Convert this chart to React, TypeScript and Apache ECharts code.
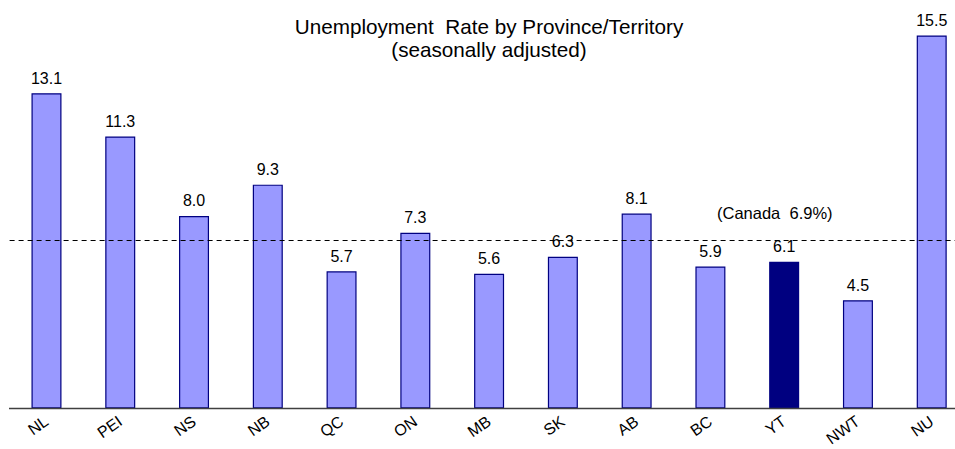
import React, { useEffect, useRef } from "react";
import * as echarts from "echarts";

const categories = ["NL", "PEI", "NS", "NB", "QC", "ON", "MB", "SK", "AB", "BC", "YT", "NWT", "NU"];
const rates = [13.1, 11.3, 8.0, 9.3, 5.7, 7.3, 5.6, 6.3, 8.1, 5.9, 6.1, 4.5, 15.5];
const highlighted = "YT";
const canadaRate = 6.9;
const canadaLineLevel = 7.0;

export default function App() {
  const ref = useRef<HTMLDivElement>(null);
  useEffect(() => {
    if (!ref.current) return;
    const chart = echarts.init(ref.current, undefined, { renderer: "svg" });
    chart.setOption({
      animation: false,
      backgroundColor: "#ffffff",
      title: {
        text: "Unemployment  Rate by Province/Territory\n(seasonally adjusted)",
        left: 484,
        top: 10,
        textAlign: "center",
        textStyle: {
          fontFamily: "Liberation Sans, Arial, sans-serif",
          fontSize: 20.7,
          fontWeight: "normal",
          color: "#000",
          lineHeight: 23,
        },
      },
      graphic: [
        {
          type: "text",
          left: 717,
          top: 204,
          style: {
            text: `(Canada  ${canadaRate.toFixed(1)}%)`,
            fontFamily: "Liberation Sans, Arial, sans-serif",
            fontSize: 16.5,
            fill: "#000",
          },
        },
        {
          type: "line",
          shape: { x1: 9, y1: 408.5, x2: 955, y2: 408.5 },
          style: { stroke: "#404040", lineWidth: 1.5 },
          z: 10,
        },
      ],
      grid: {
        left: 9.6,
        right: -13.6,
        top: 23.4,
        bottom: 40.5,
        containLabel: false,
        outerBoundsMode: "none",
      },
      xAxis: {
        type: "category",
        data: categories,
        axisLine: { show: false },
        axisTick: { show: false },
        axisLabel: {
          rotate: 35,
          margin: 11,
          fontFamily: "Liberation Sans, Arial, sans-serif",
          fontSize: 16,
          color: "#000",
          interval: 0,
        },
      },
      yAxis: {
        type: "value",
        min: 0,
        max: 16,
        show: false,
        splitLine: { show: false },
      },
      series: [
        {
          type: "bar",
          barWidth: 30,
          data: rates.map((v, i) => ({
            value: v,
            itemStyle: {
              color: categories[i] === highlighted ? "#000080" : "#9999ff",
              borderColor: "#000080",
              borderWidth: 1.2,
            },
          })),
          label: {
            show: true,
            position: "top",
            distance: 7,
            formatter: (p: any) => Number(p.value).toFixed(1),
            fontFamily: "Liberation Sans, Arial, sans-serif",
            fontSize: 16,
            color: "#000",
          },
          markLine: {
            silent: true,
            symbol: "none",
            label: { show: false },
            lineStyle: { color: "#000", type: [5, 4], width: 1.2 },
            data: [{ yAxis: canadaLineLevel }],
          },
        },
      ],
    });
    return () => chart.dispose();
  }, []);
  return (
    <div
      ref={ref}
      style={{ position: "fixed", left: 0, top: 0, width: 955, height: 449 }}
    />
  );
}
